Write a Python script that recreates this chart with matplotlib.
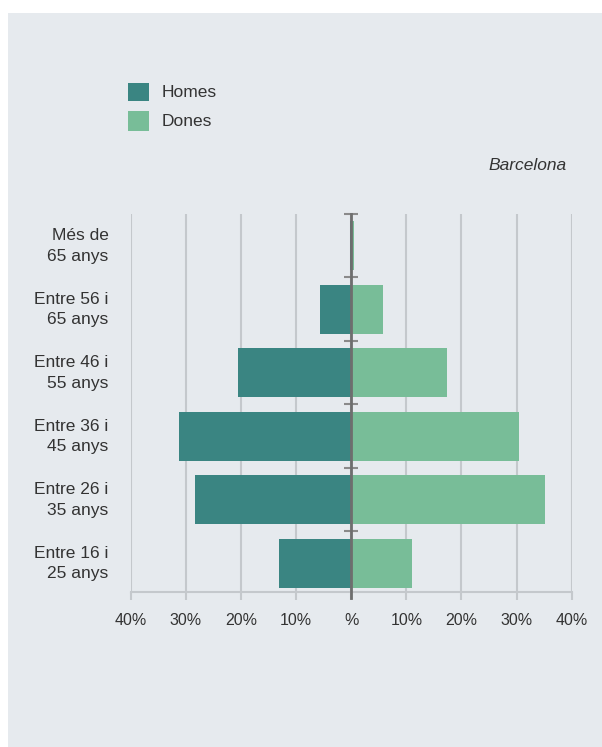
import numpy as np
import matplotlib.pyplot as plt
from matplotlib.patches import Rectangle
from matplotlib.transforms import ScaledTranslation

plt.rcParams['font.family'] = ['Liberation Sans', 'DejaVu Sans']

# age groups, bottom to top
groups = ['Entre 16 i\n25 anys', 'Entre 26 i\n35 anys', 'Entre 36 i\n45 anys',
          'Entre 46 i\n55 anys', 'Entre 56 i\n65 anys', 'Més de\n65 anys']
homes = [13.1, 28.4, 31.3, 20.5, 5.7, 0.3]
dones = [11.0, 35.2, 30.5, 17.4, 5.7, 0.5]
ticks = [-40, -30, -20, -10, 0, 10, 20, 30, 40]
tick_labels = ['40%', '30%', '20%', '10%', '%', '10%', '20%', '30%', '40%']

teal = '#3a8582'
green = '#78bd98'
panel = '#e6eaee'
grid = '#c4c8cc'
txt = '#333333'

W, H = 602, 747
fig = plt.figure(figsize=(W / 100, H / 100), dpi=100)
fig.patch.set_facecolor('white')
fig.add_artist(Rectangle((8 / W, 0), 1 - 8 / W, 1 - 13 / H, transform=fig.transFigure,
                         facecolor=panel, edgecolor='none', zorder=-10))

ax = fig.add_axes([130.7 / W, (H - 591.7) / H, 441 / W, 377.7 / H])
ax.patch.set_visible(False)

y = np.arange(len(groups))
ax.barh(y, [-v for v in homes], height=0.77, color=teal, zorder=2)
ax.barh(y, dones, height=0.77, color=green, zorder=2)

ax.set_xlim(-40, 40)
ax.set_ylim(-0.45, 5.5)
for s in ax.spines.values():
    s.set_visible(False)
ax.spines['bottom'].set_visible(True)
ax.spines['bottom'].set_color(grid)
ax.spines['bottom'].set_linewidth(1.5)

ax.set_xticks(ticks)
ax.set_xticklabels(tick_labels)
ax.tick_params(axis='x', length=6, width=1.5, color=grid, pad=9,
               labelsize=11.5, labelcolor=txt)
ax.set_yticks(y)
ax.set_yticklabels(groups)
ax.tick_params(axis='y', length=0, pad=16, labelsize=12.5, labelcolor=txt)
# group labels sit a little above the bar centre
lift = ScaledTranslation(0, 4 / 100, fig.dpi_scale_trans)
for lab in ax.get_yticklabels():
    lab.set_linespacing(1.45)
    lab.set_transform(lab.get_transform() + lift)

ax.xaxis.grid(True, color=grid, lw=1.5)
ax.set_axisbelow(True)

# centre axis with small marks between age groups
ax.axvline(0, ymin=-6 / 377.7, ymax=1, color='#6e6e6e', lw=2, zorder=3, clip_on=False)
ax.hlines(y[:-1] + 0.5, -1.3, 1.3, color='#8a8a8a', lw=1.5, zorder=1)
ax.hlines([5.5], -1.3, 1.3, color='#8a8a8a', lw=1.5, zorder=1, clip_on=False)

# legend
for (top, bot), col, name in [((83.3, 101), teal, 'Homes'), ((111, 131), green, 'Dones')]:
    fig.add_artist(Rectangle((128.3 / W, (H - bot) / H), 20.7 / W, (bot - top) / H,
                             transform=fig.transFigure, facecolor=col, edgecolor='none'))
    fig.text(162 / W, (H - (top + bot) / 2) / H, name, ha='left', va='center',
             fontsize=12.5, color=txt)

fig.text(567 / W, (H - 165.7) / H, 'Barcelona', ha='right', va='center',
         fontsize=12.5, style='italic', color=txt)

fig.savefig('out.png', dpi=100)
